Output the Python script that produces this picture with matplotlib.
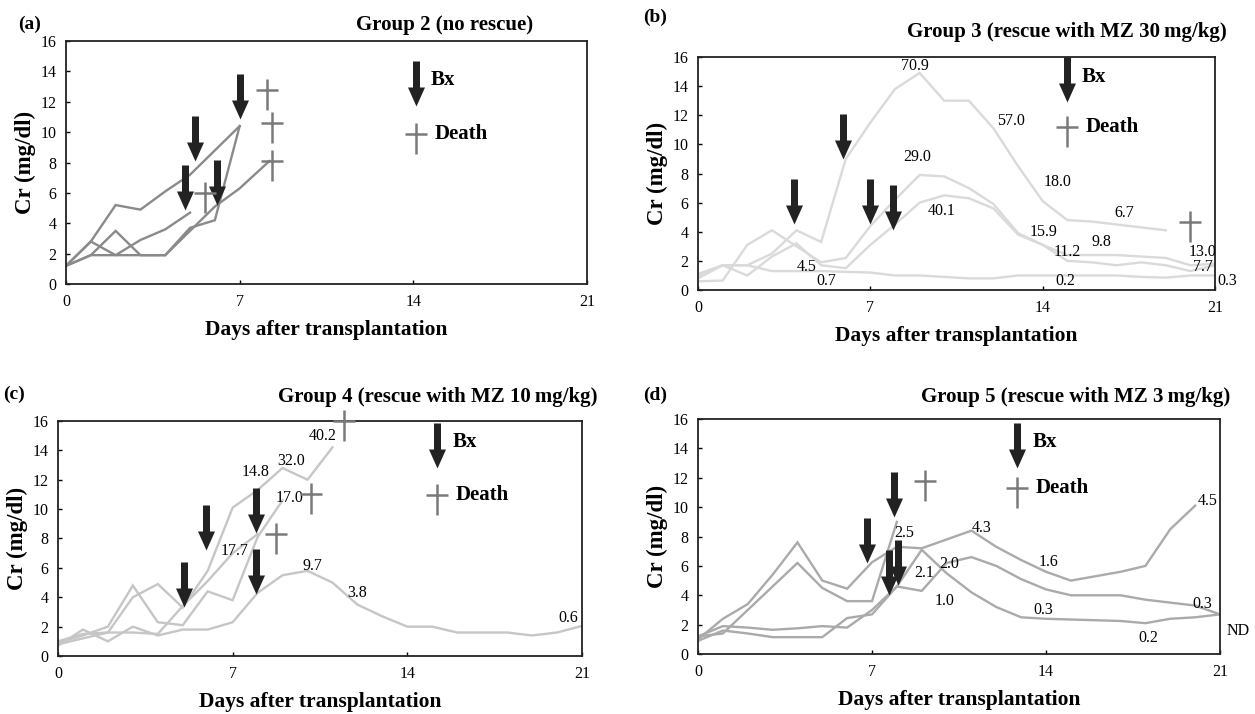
import numpy as np
import matplotlib.pyplot as plt
from matplotlib.path import Path

plt.rcParams['font.family'] = ['Liberation Serif', 'DejaVu Serif']

# ---- data: serum creatinine (mg/dl) per day after transplantation ----
# Group 2 (no rescue)
a_days4 = [0, 1, 2, 3, 4, 5, 6, 7, 8.2]
a_cr1 = [1.2, 2.8, 5.2, 4.9, 6.1, 7.2, 8.8, 10.4]
a_cr2 = [1.2, 1.9, 3.5, 1.9, 1.9, 3.7, 4.2, 10.4]
a_cr3 = [1.2, 1.9, 1.9, 2.9, 3.6, 4.7]
a_cr4 = [1.2, 2.8, 1.9, 1.9, 1.9, 3.5, 5.1, 6.3, 8.1]
a_bx_day = [4.8, 5.2, 6.1, 7.0]
a_bx_cr = [4.9, 8.1, 5.2, 10.9]
a_death_day = [5.6, 8.1, 8.3, 8.3]
a_death_cr = [6.0, 12.8, 10.6, 8.1]

# Group 3 (MZ 30 mg/kg)
b_cr1 = [0.8, 1.7, 1.7, 2.5, 4.1, 3.3, 9.0, 11.5, 13.8, 14.9, 13.0, 13.0, 11.1, 8.5, 6.1, 4.8, 4.7, 4.5, 4.3, 4.1]
b_cr2 = [0.6, 0.65, 3.1, 4.1, 3.0, 1.9, 2.2, 4.4, 6.2, 7.9, 7.8, 7.0, 5.9, 3.9, 3.1, 2.4, 2.4, 2.4, 2.3, 2.2, 1.7, 1.8]
b_cr3 = [1.1, 1.7, 1.0, 2.3, 3.2, 1.7, 1.5, 3.1, 4.5, 6.0, 6.5, 6.3, 5.6, 3.8, 3.1, 2.0, 1.9, 1.7, 1.9, 1.7, 1.3, 1.7]
b_cr4 = [1.0, 1.7, 1.7, 1.3, 1.3, 1.3, 1.25, 1.2, 1.0, 1.0, 0.9, 0.8, 0.8, 1.0, 1.0, 1.0, 1.0, 1.0, 0.9, 0.85, 1.0, 1.0]
b_bx_day = [3.9, 5.9, 7.0, 7.9]
b_bx_cr = [4.5, 9.0, 4.5, 4.1]
b_death_day = [20.0]
b_death_cr = [4.7]
b_lab_text = ['70.9', '29.0', '40.1', '4.5', '0.7', '57.0', '18.0', '6.7', '15.9', '9.8', '11.2', '13.0', '7.7', '0.3', '0.2']
b_lab_day = [8.8, 8.9, 9.9, 4.4, 5.2, 12.7, 14.6, 17.3, 14.05, 16.4, 15.0, 20.5, 20.5, 21.5, 14.9]
b_lab_cr = [15.4, 9.1, 5.4, 1.6, 0.6, 11.6, 7.4, 5.3, 4.0, 3.3, 2.6, 2.6, 1.6, 0.6, 0.6]

# Group 4 (MZ 10 mg/kg)
c_cr1 = [1.0, 1.5, 1.6, 4.0, 4.9, 3.3, 5.8, 10.1, 11.3, 12.8, 12.0, 14.2]
c_cr2 = [0.9, 1.4, 2.0, 4.8, 2.3, 2.1, 4.4, 3.8, 8.1, 10.6]
c_cr3 = [0.8, 1.2, 1.6, 1.6, 1.5, 3.4, 5.1, 7.0, 8.3]
c_cr4 = [0.7, 1.8, 1.0, 2.0, 1.4, 1.8, 1.8, 2.3, 4.3, 5.5, 5.8, 5.0, 3.5, 2.7, 2.0, 2.0, 1.6, 1.6, 1.6, 1.4, 1.6, 2.05]
c_bx_day = [5.05, 5.95, 7.95, 7.95]
c_bx_cr = [3.35, 7.2, 8.4, 4.25]
c_death_day = [8.75, 10.15, 11.45]
c_death_cr = [8.3, 11.0, 16.0]
c_lab_text = ['14.8', '32.0', '40.2', '17.0', '17.7', '9.7', '3.8', '0.6']
c_lab_day = [7.9, 9.35, 10.6, 9.3, 7.07, 10.2, 12.0, 20.45]
c_lab_cr = [12.5, 13.3, 15.0, 10.75, 7.16, 6.1, 4.3, 2.6]

# Group 5 (MZ 3 mg/kg)
d_cr1 = [1.2, 1.4, 3.0, 4.6, 6.2, 4.5, 3.6, 3.6, 9.0]
d_cr2 = [1.0, 2.4, 3.4, 5.4, 7.6, 5.0, 4.45, 6.25, 7.3, 7.2, 7.8, 8.4, 7.3, 6.4, 5.6, 5.0, 5.3, 5.6, 6.0, 8.5, 10.1]
d_cr3 = [1.2, 1.9, 1.8, 1.65, 1.75, 1.9, 1.8, 3.0, 4.6, 7.1, 5.5, 4.2, 3.2, 2.5, 2.4, 2.35, 2.3, 2.25, 2.1, 2.4, 2.5, 2.7]
d_cr4 = [0.9, 1.6, 1.4, 1.15, 1.15, 1.15, 2.45, 2.7, 4.6, 4.3, 6.2, 6.6, 6.0, 5.1, 4.4, 4.0, 4.0, 4.0, 3.7, 3.5, 3.3, 2.7]
d_bx_day = [6.8, 7.9, 7.7, 8.05]
d_bx_cr = [6.2, 9.3, 4.0, 4.7]
d_death_day = [9.15]
d_death_cr = [11.75]
d_lab_text = ['2.5', '2.1', '2.0', '4.3', '1.0', '1.6', '0.3', '0.2', '0.3', '4.5']
d_lab_day = [8.3, 9.1, 10.1, 11.4, 9.9, 14.1, 13.9, 18.1, 20.3, 20.5]
d_lab_cr = [8.25, 5.5, 6.1, 8.6, 3.6, 6.3, 3.0, 1.1, 3.4, 10.4]

x_ticks = [0, 7, 14, 21]
y_ticks = [0, 2, 4, 6, 8, 10, 12, 14, 16]

# ---- markers (pixel units, tip / crossing sits on the data point) ----
DPI = 100
arrow_path = Path([(0, 0), (8.5, 19), (3.5, 19), (3.5, 45), (-3.5, 45), (-3.5, 19), (-8.5, 19), (0, 0)], closed=True)
arrow_ms = 2 * 45 * 72 / DPI
cross_path = Path([(0, 11), (0, -20), (-11, 0), (11, 0)],
                  [Path.MOVETO, Path.LINETO, Path.MOVETO, Path.LINETO])
cross_ms = 2 * 20 * 72 / DPI
arrow_col = '#222222'
cross_col = '#7a7a7a'


def bx(ax, d, v):
    ax.plot(d, v, linestyle='none', marker=arrow_path, markersize=arrow_ms,
            color=arrow_col, markeredgewidth=0, clip_on=False, zorder=5)


def death(ax, d, v):
    ax.plot(d, v, linestyle='none', marker=cross_path, markersize=cross_ms,
            markerfacecolor='none', markeredgecolor=cross_col, markeredgewidth=1.8,
            clip_on=False, zorder=5)


def panel(rect, series, color, legend_day, legend_bx, legend_death):
    ax = fig.add_axes(rect)
    for d, v in series:
        ax.plot(d, v, color=color, lw=1.7, solid_joinstyle='miter', zorder=2)
    ax.set_xlim(0, 21)
    ax.set_ylim(0, 16)
    ax.set_xticks(x_ticks)
    ax.set_yticks(y_ticks)
    ax.tick_params(direction='in', length=3, width=1, labelsize=11.5, pad=7)
    for s in ax.spines.values():
        s.set_linewidth(1.3)
        s.set_color('#222222')
    ax.annotate('Days after transplantation', xy=(0.5, 0), xycoords='axes fraction',
                xytext=(0, -33), textcoords='offset points', ha='center', va='center',
                fontsize=15.5, fontweight='bold')
    ax.annotate('Cr (mg/dl)', xy=(0, 0.5), xycoords='axes fraction',
                xytext=(-29, 0), textcoords='offset points', ha='center', va='center',
                rotation=90, fontsize=16.5, fontweight='bold')
    # legend
    bx(ax, [legend_day], [legend_bx])
    ax.text(legend_day + 0.6, legend_bx + 1.75, 'Bx', fontsize=15, fontweight='bold', va='center')
    death(ax, [legend_day], [legend_death])
    ax.text(legend_day + 0.75, legend_death, 'Death', fontsize=15, fontweight='bold', va='center')
    return ax


def rng(v):
    return np.arange(len(v))


fig = plt.figure(figsize=(12.55, 7.14), dpi=DPI)

# (a)
ax = panel([0.0526, 0.6022, 0.4151, 0.3403],
           [(rng(a_cr1), a_cr1), (rng(a_cr2), a_cr2), (rng(a_cr3), a_cr3), (a_days4, a_cr4)],
           '#8a8a8a', 14.1, 11.7, 9.9)
bx(ax, a_bx_day, a_bx_cr)
death(ax, a_death_day, a_death_cr)

# (b)
ax = panel([0.5562, 0.5938, 0.4120, 0.3264],
           [(rng(v), v) for v in (b_cr1, b_cr2, b_cr3, b_cr4)],
           '#dadada', 15.0, 12.9, 11.2)
bx(ax, b_bx_day, b_bx_cr)
death(ax, b_death_day, b_death_cr)
for t, x, y in zip(b_lab_text, b_lab_day, b_lab_cr):
    ax.text(x, y, t, fontsize=11.5, ha='center', va='center', zorder=4)

# (c)
ax = panel([0.0462, 0.0812, 0.4175, 0.3292],
           [(rng(v), v) for v in (c_cr1, c_cr2, c_cr3, c_cr4)],
           '#c6c6c6', 15.2, 12.8, 10.95)
bx(ax, c_bx_day, c_bx_cr)
death(ax, c_death_day, c_death_cr)
for t, x, y in zip(c_lab_text, c_lab_day, c_lab_cr):
    ax.text(x, y, t, fontsize=11.5, ha='center', va='center', zorder=4)

# (d)
ax = panel([0.5562, 0.0840, 0.4159, 0.3291],
           [(rng(v), v) for v in (d_cr1, d_cr2, d_cr3, d_cr4)],
           '#aaaaaa', 12.85, 12.7, 11.3)
bx(ax, d_bx_day, d_bx_cr)
death(ax, d_death_day, d_death_cr)
for t, x, y in zip(d_lab_text, d_lab_day, d_lab_cr):
    ax.text(x, y, t, fontsize=11.5, ha='center', va='center', zorder=4)
ax.text(21.25, 1.55, 'ND', fontsize=11.5, ha='left', va='center')

# panel tags and titles
fig.text(18 / 1255, 1 - 24 / 714, '(a)', fontsize=14, fontweight='bold', va='center')
fig.text(643 / 1255, 1 - 17 / 714, '(b)', fontsize=14, fontweight='bold', va='center')
fig.text(3 / 1255, 1 - 394 / 714, '(c)', fontsize=14, fontweight='bold', va='center')
fig.text(643 / 1255, 1 - 395 / 714, '(d)', fontsize=14, fontweight='bold', va='center')
fig.text(533 / 1255, 1 - 25 / 714, 'Group 2 (no rescue)', fontsize=15, fontweight='bold', ha='right', va='center')
fig.text(1227 / 1255, 1 - 32 / 714, 'Group 3 (rescue with MZ 30\u2009mg/kg)', fontsize=15, fontweight='bold', ha='right', va='center')
fig.text(598 / 1255, 1 - 397 / 714, 'Group 4 (rescue with MZ 10\u2009mg/kg)', fontsize=15, fontweight='bold', ha='right', va='center')
fig.text(1230 / 1255, 1 - 397 / 714, 'Group 5 (rescue with MZ 3\u2009mg/kg)', fontsize=15, fontweight='bold', ha='right', va='center')

fig.savefig('out.png', dpi=DPI)
